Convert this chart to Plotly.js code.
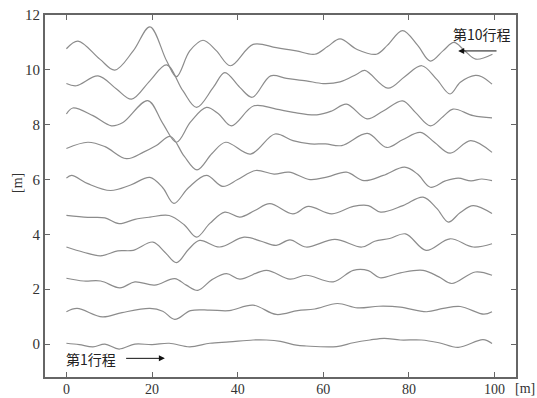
<!DOCTYPE html>
<html>
<head>
<meta charset="utf-8">
<script src="https://cdn.plot.ly/plotly-3.0.1.min.js"></script>
<style>html,body{margin:0;padding:0;background:#fff;}#chart{width:537px;height:398px;}</style>
</head>
<body>
<div id="chart"></div>
<script>
// Pass (行程) profiles
const x1 = [0, 3, 6.2, 9, 12.3, 16, 20, 24, 28.8, 33.5, 38, 43.6, 46.7, 50, 53.7, 56, 63.1, 67, 70.9, 74.2, 78, 82.9, 87, 91.5, 97.3, 99.4];
const y1 = [0.03, -0.02, -0.1, 0.0, -0.18, 0.0, -0.02, 0.03, -0.1, 0.03, 0.08, 0.15, 0.15, 0.1, -0.04, -0.07, -0.09, 0.05, 0.15, 0.21, 0.15, 0.15, 0.05, -0.12, 0.16, 0.02];

const x2 = [0, 2.5, 8.4, 13, 19.5, 22.5, 25.3, 29, 33.5, 38, 43.6, 49, 54, 58, 63.3, 68, 73, 78, 84.1, 88, 92, 97.5, 99.4];
const y2 = [1.18, 1.3, 0.99, 1.15, 1.3, 1.2, 0.9, 1.22, 1.24, 1.22, 1.42, 1.08, 1.22, 1.28, 1.48, 1.32, 1.38, 1.35, 1.18, 1.3, 1.37, 1.09, 1.18];

const x3 = [0, 4, 8, 12.5, 16, 20.6, 25.3, 28, 30.7, 34, 37.4, 40.5, 46.7, 52.2, 56, 62.3, 67, 70.5, 73.2, 78, 83.3, 87, 90, 95.5, 99.4];
const y3 = [2.4, 2.3, 2.3, 2.05, 2.27, 2.15, 2.39, 2.15, 1.96, 2.35, 2.57, 2.37, 2.69, 2.37, 2.51, 2.27, 2.69, 2.68, 2.42, 2.6, 2.69, 2.45, 2.21, 2.63, 2.51];

const x4 = [0, 4, 8, 12, 15.6, 20.2, 23, 25.7, 28.5, 31.1, 35.8, 41.5, 45.5, 49, 52.2, 56, 62.7, 69, 72, 75.5, 79.2, 84, 89.6, 95, 99.4];
const y4 = [3.54, 3.35, 3.22, 3.4, 3.42, 3.72, 3.35, 2.97, 3.45, 3.78, 3.54, 3.9, 3.75, 3.6, 3.8, 3.54, 3.82, 3.54, 3.75, 3.85, 4.02, 3.42, 3.84, 3.54, 3.66];

const x5 = [0, 5, 9, 12.3, 16, 19.5, 24, 27.5, 30.4, 33.5, 37, 40.5, 44, 47.5, 52.9, 56.5, 62, 67, 70.5, 73.4, 78.6, 83.3, 86.5, 89.2, 92, 95, 99.4];
const y5 = [4.69, 4.62, 4.6, 4.39, 4.55, 4.63, 4.69, 4.35, 3.9, 4.4, 4.81, 4.63, 4.87, 5.12, 4.75, 5.02, 4.75, 5.02, 5.05, 4.81, 5.05, 5.36, 4.95, 4.45, 4.8, 5.05, 4.76];

const x6 = [0, 1.2, 5, 10.3, 15, 19.5, 22.5, 25.1, 28.5, 32.7, 36.5, 40, 44.2, 48.5, 52, 56.9, 61, 65.4, 69.5, 74, 79, 82, 85, 88.5, 91.5, 94.5, 97, 99.4];
const y6 = [6.05, 6.15, 5.85, 5.6, 5.8, 6.08, 5.7, 5.13, 5.7, 6.15, 5.75, 6.0, 6.33, 6.2, 6.27, 6.0, 6.1, 6.27, 5.96, 6.15, 6.45, 6.2, 5.72, 5.95, 6.05, 5.95, 6.02, 5.96];

const x7 = [0, 5, 9, 14, 18, 21, 24.3, 27.5, 30.5, 34, 37.2, 43, 48.7, 52.9, 57, 60.5, 64.3, 70.3, 74.8, 78.5, 82.7, 86, 89.6, 94.4, 99.4];
const y7 = [7.13, 7.36, 7.2, 6.76, 7.0, 7.24, 7.57, 6.85, 6.35, 6.95, 7.36, 6.93, 7.66, 7.42, 7.3, 7.3, 7.24, 7.68, 7.17, 7.45, 7.72, 7.35, 6.96, 7.42, 6.99];

const x8 = [0, 1.5, 6.2, 10.5, 13.2, 19, 22.5, 25.7, 29, 32.7, 35.5, 38.5, 43.8, 49, 53, 58.5, 62, 65.4, 70.2, 74, 78.5, 81.5, 85, 88, 90.3, 95, 99.4];
const y8 = [8.39, 8.61, 8.33, 7.96, 8.08, 8.88, 8.05, 7.36, 8.1, 8.63, 8.4, 7.96, 8.69, 8.57, 8.45, 8.36, 8.5, 8.75, 8.21, 8.5, 8.87, 8.45, 7.96, 8.3, 8.57, 8.33, 8.25];

const x9 = [0, 2.3, 7.4, 11.7, 15.2, 19.5, 23.4, 27.2, 30.4, 34.3, 37, 40.5, 43.4, 47.7, 51.4, 56, 60, 63.9, 67.8, 69.7, 75.1, 79, 83, 86.5, 89.6, 92, 95.5, 97, 99.4];
const y9 = [9.5, 9.42, 9.78, 9.3, 8.93, 9.6, 10.18, 9.24, 8.63, 9.36, 9.9, 9.36, 9.0, 9.78, 9.69, 9.6, 9.5, 9.56, 9.84, 9.98, 9.33, 9.75, 10.15, 9.65, 9.12, 9.55, 9.8, 9.75, 9.48];

const x10 = [0, 2.7, 7.8, 11.3, 15.6, 19.5, 23.4, 25.7, 28.8, 31.9, 35, 38.3, 43.6, 49, 53.7, 58, 61, 63.9, 67.8, 72.4, 75, 78.5, 82, 85, 88, 90.5, 93, 95.6, 99.5];
const y10 = [10.77, 11.05, 10.39, 9.99, 10.69, 11.57, 10.33, 9.75, 10.69, 11.08, 10.7, 10.15, 10.93, 10.81, 10.69, 10.57, 10.85, 11.13, 10.75, 10.57, 10.9, 11.43, 10.9, 10.32, 10.7, 11.0, 10.7, 10.39, 10.57];

const xTicks = [0, 20, 40, 60, 80, 100];
const yTicks = [0, 2, 4, 6, 8, 10, 12];
const firstLabel = '第1行程';
const lastLabel = '第10行程';
const unitLabel = '[m]';

const xs = [x1, x2, x3, x4, x5, x6, x7, x8, x9, x10];
const ys = [y1, y2, y3, y4, y5, y6, y7, y8, y9, y10];

const traces = xs.map((x, i) => ({
  x: x, y: ys[i], type: 'scatter', mode: 'lines',
  line: {color: '#8c8c8c', width: 1.2, shape: 'spline', smoothing: 1},
  hoverinfo: 'skip', showlegend: false
}));

const axisCommon = {
  showgrid: false, zeroline: false, showline: true, mirror: 'ticks',
  linecolor: '#666', linewidth: 2, ticks: 'inside', ticklen: 5,
  tickcolor: '#666', tickwidth: 1
};
const tickFont = {family: 'Liberation Serif, DejaVu Serif, serif', size: 14, color: '#333'};

const cjkFont = {family: 'Noto Sans CJK JP, Noto Sans CJK SC, sans-serif', size: 14, color: '#222'};
const unitFont = {family: 'Liberation Serif, serif', size: 14, color: '#333'};

const pw = 537 - 45 - 21, ph = 398 - 15 - 21;

const layout = {
  width: 537, height: 398,
  margin: {l: 45, r: 21, t: 15, b: 21},
  paper_bgcolor: '#fff', plot_bgcolor: '#fff',
  xaxis: Object.assign({}, axisCommon, {range: [-5, 105], tickvals: xTicks, ticktext: xTicks.map(String),
    tickfont: tickFont, ticklabelstandoff: -2}),
  yaxis: Object.assign({}, axisCommon, {range: [-1.2, 12], tickvals: yTicks, ticktext: yTicks.map(String),
    tickfont: Object.assign({}, tickFont, {size: 15})}),
  annotations: [
    {x: 5.8, y: -0.56, xref: 'x', yref: 'y', xanchor: 'center', yanchor: 'middle',
     text: firstLabel, showarrow: false, font: cjkFont},
    {x: 23, y: -0.52, xref: 'x', yref: 'y', ax: 13.6, ay: -0.52, axref: 'x', ayref: 'y',
     text: '', showarrow: true, arrowhead: 2, arrowsize: 1.2, arrowwidth: 1, arrowcolor: '#111'},
    {x: 97, y: 11.3, xref: 'x', yref: 'y', xanchor: 'center', yanchor: 'middle',
     text: lastLabel, showarrow: false, font: cjkFont},
    {x: 91.5, y: 10.69, xref: 'x', yref: 'y', ax: 100.8, ay: 10.69, axref: 'x', ayref: 'y',
     text: '', showarrow: true, arrowhead: 2, arrowsize: 1.2, arrowwidth: 1, arrowcolor: '#111'},
    {x: (525 - 45) / pw, y: (377 - 389) / ph, xref: 'paper', yref: 'paper', xanchor: 'center', yanchor: 'middle',
     text: unitLabel, showarrow: false, font: unitFont},
    {x: (17 - 45) / pw, y: (377 - 183) / ph, xref: 'paper', yref: 'paper', xanchor: 'center', yanchor: 'middle',
     text: unitLabel, textangle: -90, showarrow: false, font: unitFont}
  ]
};

Plotly.newPlot('chart', traces, layout, {displayModeBar: false, staticPlot: true});
</script>
</body>
</html>
